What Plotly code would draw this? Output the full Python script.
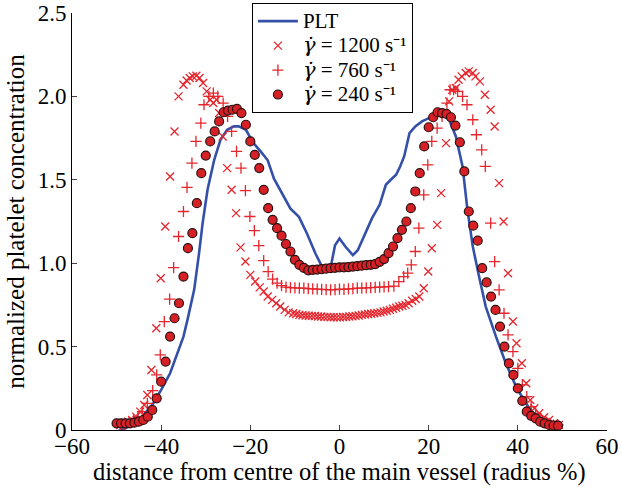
import plotly.graph_objects as go

# ---------------- data ----------------
plt_x = [-50, -48, -46, -44, -42, -40, -38, -36.3, -35, -34.1, -33.3, -32.6, -31.5, -30.7,
         -29.6, -28.1, -26.7, -25.2, -23.7, -22.6, -21, -19.3, -17.6, -16.1, -14.7, -12.8,
         -11, -9.1, -7.3, -5.4, -3.9, -2.5, -1.8, -1, 0, 1.3, 3.0, 4.1, 5.6, 7.3, 9.0, 10.4,
         11.5, 12.7, 13.6, 14.5, 15.7, 17.0, 18.5, 20.9, 23.1, 24.6, 26.1, 27.6, 28.7, 29.9,
         31.3, 32.8, 35.1, 37.3, 39.6, 41.8, 44, 46.3, 48.3, 49]
plt_y = [-0.01, 0.01, 0.04, 0.09, 0.15, 0.24, 0.34, 0.46, 0.56, 0.66, 0.75, 0.84, 1.06, 1.24,
         1.44, 1.62, 1.74, 1.80, 1.82, 1.82, 1.80, 1.72, 1.667, 1.617, 1.507, 1.417,
         1.327, 1.278, 1.178, 1.058, 0.978, 0.955, 1.0, 1.108, 1.148, 1.10, 1.048, 1.078, 1.17,
         1.27, 1.35, 1.47, 1.50, 1.53, 1.58, 1.64, 1.78, 1.82, 1.85, 1.88, 1.89, 1.86, 1.76,
         1.58, 1.32, 1.10, 0.92, 0.74, 0.56, 0.40, 0.26, 0.16, 0.08, 0.04, 0.0, -0.01]

x1200 = [-49.2, -48.3, -47.4, -46.5, -45.6, -44.7, -43.8, -43.1, -42.2, -41.1, -40.1, -39.1,
         -38, -37, -36.1, -35, -34.3, -33.6, -32.9, -32.1, -31.4, -30.6, -29.8, -29.0, -28.3,
         -27.6, -27.0, -26.2, -25.2, -24.2, -23.2, -22.2, -21.1, -20.0, -18.9, -17.9, -17.0,
         -16.1, -15.1, -14.2, -13.3, -12.3, -11.4, -10.4,
         -9.7, -9.0, -8.3, -7.6, -6.9, -6.2, -5.5, -4.8, -4.1, -3.4, -2.7, -2.0, -1.3, -0.6,
         0.1, 0.8, 1.5, 2.2, 2.9, 3.6, 4.3, 5.0, 5.7, 6.4, 7.1, 7.8, 8.5, 9.2, 9.9, 10.6,
         11.3, 12.0, 12.7, 13.4, 14.1, 14.8, 15.5, 16.3, 17.1, 17.9,
         18.9, 19.9, 20.7, 21.9, 22.8, 23.9, 24.6, 25.3, 26.1, 26.7, 27.4, 28.3, 29.0, 29.9,
         30.5, 31.5, 32.6, 33.9, 34.8, 35.8, 36.8, 37.8, 38.9, 39.7, 40.9, 41.9, 42.8, 43.7,
         44.8, 45.9, 47.0, 48.1, 49.2]
y1200 = [0.03, 0.04, 0.05, 0.06, 0.08, 0.11, 0.15, 0.21, 0.36, 0.61, 0.91, 1.22,
         1.52, 1.79, 2.0, 2.07, 2.095, 2.11, 2.12, 2.124, 2.11, 2.08, 2.03, 1.98, 1.96,
         1.98, 1.9, 1.76, 1.57, 1.44, 1.30, 1.095, 1.01, 0.93, 0.89, 0.855, 0.83,
         0.80, 0.78, 0.76, 0.74, 0.72, 0.705, 0.70,
         0.695, 0.69, 0.688, 0.686, 0.685, 0.684, 0.683, 0.68, 0.68, 0.678, 0.678, 0.676,
         0.676, 0.675, 0.675, 0.677, 0.678, 0.68, 0.682, 0.684, 0.686, 0.69, 0.692, 0.695,
         0.697, 0.70, 0.702, 0.705, 0.71, 0.715, 0.72, 0.727, 0.733, 0.74, 0.745, 0.75,
         0.76, 0.775, 0.785, 0.80,
         0.85, 0.95, 1.09, 1.23, 1.42, 1.72, 1.97, 2.04, 2.05, 2.10, 2.12, 2.14, 2.15, 2.14,
         2.12, 2.09, 2.01, 1.92, 1.82, 1.48, 1.25, 0.94, 0.65, 0.52, 0.40, 0.28, 0.18, 0.13,
         0.10, 0.076, 0.06, 0.04, 0.03]

x760 = [-49.2, -48.2, -47.2, -46.2, -45.2, -44.2, -43.1, -41.9, -41.0, -40.2, -39.3, -38.1,
        -37.2, -36.1, -35.0, -34.2, -33.1, -32.2, -31.1, -30.4, -29.3, -28.3, -27.3, -26.1,
        -25.1, -24.2, -23.1, -22.1, -21.1, -20.1, -19.1, -18.1, -17.0, -16.0, -15.0, -14.0,
        -13.0, -12.0, -11, -10, -9, -8, -7, -6, -5, -4, -3, -2, -1, 0, 1, 2, 3, 4, 5, 6, 7,
        8, 9, 10, 11, 12.2, 13.3, 14.4, 15.3, 16.1, 17.0, 17.8, 18.9, 19.8, 20.7, 21.9,
        23.0, 24.1, 24.8, 25.6, 26.5, 27.6, 28.6, 29.9, 30.7, 31.9, 32.7, 33.9, 34.8, 35.8,
        36.9, 37.8, 38.9, 40.0, 41.0, 42.0, 43.0, 44.0, 45.0, 46.0, 47.0, 48.0, 49.0]
y760 = [0.03, 0.035, 0.045, 0.06, 0.08, 0.11, 0.16, 0.236, 0.33, 0.45, 0.65, 0.785,
        0.973, 1.16, 1.31, 1.455, 1.60, 1.73, 1.84, 1.95, 2.0, 2.02, 2.0, 1.96,
        1.88, 1.79, 1.67, 1.57, 1.435, 1.28, 1.195, 1.105, 1.015, 0.95, 0.905, 0.88,
        0.865, 0.856, 0.853, 0.852, 0.85, 0.85, 0.848, 0.846, 0.845, 0.843, 0.842, 0.84,
        0.842, 0.845, 0.843, 0.846, 0.848, 0.85, 0.851, 0.852, 0.853, 0.855, 0.856, 0.858,
        0.86, 0.863, 0.89, 0.92, 0.94, 0.99, 1.07, 1.21, 1.41, 1.59, 1.73, 1.81,
        1.88, 1.96, 2.04, 2.04, 2.03, 2.0, 1.95, 1.86, 1.77, 1.68, 1.58, 1.24, 1.01, 0.84,
        0.70, 0.57, 0.47, 0.37, 0.27, 0.2, 0.14, 0.1, 0.07, 0.05, 0.04, 0.03, 0.03]

x240 = list(range(-50, 50))
y240 = [0.04, 0.04, 0.04, 0.04, 0.044, 0.05, 0.06, 0.08, 0.12, 0.19,
        0.29, 0.41, 0.56, 0.67, 0.76, 0.92, 1.09, 1.18, 1.36, 1.54,
        1.645, 1.73, 1.79, 1.85, 1.905, 1.915, 1.92, 1.925, 1.9, 1.83,
        1.73, 1.65, 1.57, 1.44, 1.33, 1.26, 1.21, 1.165, 1.115, 1.07,
        1.02, 0.99, 0.972, 0.957, 0.96, 0.962, 0.965, 0.967, 0.97, 0.972,
        0.975, 0.975, 0.977, 0.98, 0.982, 0.985, 0.988, 0.99, 0.995, 1.008,
        1.025, 1.06, 1.10, 1.15, 1.20, 1.25, 1.33, 1.43, 1.54, 1.70,
        1.815, 1.875, 1.905, 1.90, 1.895, 1.875, 1.825, 1.725, 1.55, 1.31,
        1.225, 1.135, 0.97, 0.885, 0.80, 0.72, 0.62, 0.50, 0.40, 0.33,
        0.25, 0.175, 0.11, 0.085, 0.07, 0.05, 0.04, 0.03, 0.027, 0.026]

x_ticks = [-60, -40, -20, 0, 20, 40, 60]
y_ticks = [0, 0.5, 1.0, 1.5, 2.0, 2.5]
y_tick_text = ["0", "0.5", "1.0", "1.5", "2.0", "2.5"]

x_title = "distance from centre of the main vessel (radius %)"
y_title = "normalized platelet concentration"
GAMMA = "<span style=\"font-family:'DejaVu Serif'\"><i>γ̇</i></span>"
legend_labels = ["PLT",
                 GAMMA + " = 1200 s⁻¹",
                 GAMMA + " = 760 s⁻¹",
                 GAMMA + " = 240 s⁻¹"]
names = ["<span style=\"font-size:21px\">" + t + "</span>" for t in legend_labels]

# ---------------- figure ----------------
RED = "#e5262d"
FONT = "Liberation Serif"

fig = go.Figure()
fig.add_trace(go.Scatter(x=plt_x, y=plt_y, mode="lines", name=names[0],
                         line=dict(color="#3450a8", width=2.6)))
fig.add_trace(go.Scatter(x=x1200, y=y1200, mode="markers", name=names[1], cliponaxis=False,
                         marker=dict(symbol="x-thin", size=8, line=dict(color=RED, width=1.3))))
fig.add_trace(go.Scatter(x=x760, y=y760, mode="markers", name=names[2], cliponaxis=False,
                         marker=dict(symbol="cross-thin", size=8, line=dict(color=RED, width=1.3))))
fig.add_trace(go.Scatter(x=x240, y=y240, mode="markers", name=names[3], cliponaxis=False,
                         marker=dict(symbol="circle", size=9, color="#d71f26",
                                     line=dict(color="#2a1212", width=1.2))))

fig.update_layout(
    width=622, height=491,
    margin=dict(l=72, r=15, t=13, b=61, autoexpand=False),
    paper_bgcolor="white", plot_bgcolor="white",
    font=dict(family=FONT, size=23, color="black"),
    showlegend=True,
    legend=dict(xref="container", yref="container", x=0.405, y=0.994,
                xanchor="left", yanchor="top",
                bgcolor="white", bordercolor="black", borderwidth=1,
                font=dict(family=FONT, size=16.5), tracegroupgap=0,
                itemwidth=40),
    annotations=[
        dict(text=x_title, xref="paper", yref="paper", x=0.5, y=-0.1,
             xanchor="center", yanchor="middle", showarrow=False,
             font=dict(family=FONT, size=24.5)),
        dict(text=y_title, xref="paper", yref="paper", x=-0.106, y=0.5,
             xanchor="center", yanchor="middle", showarrow=False, textangle=-90,
             font=dict(family=FONT, size=25)),
    ],
)
fig.update_xaxes(range=[-60, 60], tickvals=x_ticks, ticks="inside", ticklen=5,
                 showline=True, linecolor="black", linewidth=1, showgrid=False,
                 zeroline=False, mirror=False, tickfont=dict(size=23),
                 ticklabelstandoff=-5)
fig.update_yaxes(range=[0, 2.5], tickvals=y_ticks, ticktext=y_tick_text, ticks="inside",
                 ticklen=5, showline=True, linecolor="black", linewidth=1, showgrid=False,
                 zeroline=False, mirror=False, tickfont=dict(size=23))

fig.write_html("out.html", config={"displayModeBar": False},
               post_script="document.body.style.margin='0px';")
